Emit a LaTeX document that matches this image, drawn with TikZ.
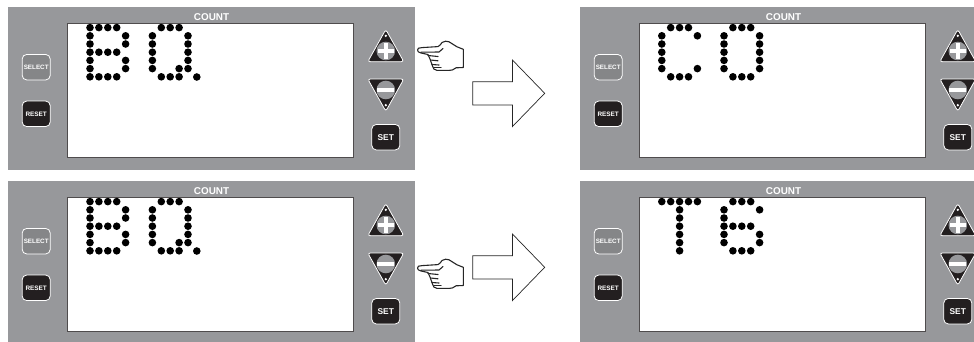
\documentclass[tikz,border=0pt]{standalone}
\usepackage{fontspec}
\setmainfont{Liberation Sans}
\definecolor{panelgray}{HTML}{97989B}
\definecolor{btndark}{HTML}{231F20}
\usetikzlibrary{calc}
\tikzset{
  x=1pt,y=-1pt,
  panel/.style={fill=panelgray,draw=none},
  screen/.style={fill=white,draw=btndark!80,line width=0.9pt},
  keybox/.style={draw=white,line width=0.8pt,rounded corners=4.5pt,minimum width=28pt,minimum height=25.5pt,inner sep=0pt,text=white,font=\bfseries},
  selectkey/.style={keybox,fill=panelgray!88!black},
  darkkey/.style={keybox,fill=btndark},
  tri/.style={fill=btndark,draw=white,line width=0.8pt,rounded corners=2.5pt},
  knob/.style={circle,fill=panelgray,draw=none,minimum size=18.6pt,inner sep=0pt},
  pin/.style={circle,fill=white,draw=none,minimum size=2.6pt,inner sep=0pt},
  sign/.style={fill=white,draw=none},
  dotmark/.style={fill=black},
  label/.style={text=white,font=\bfseries\fontsize{9.9}{10}\selectfont,inner sep=0pt},
  outlinearrow/.style={draw=black!85,fill=white,line width=0.7pt,line join=miter},
  handline/.style={draw=black!85,line width=1.1pt,line cap=round,line join=round},
}
% #1 prefix, #2 x offset, #3 y offset
\newcommand{\drawpanel}[3]{%
  \begin{scope}[shift={(#2,#3)}]
    \fill[panel] (8,7) rectangle (415,170);
    \draw[screen] (67.7,23) rectangle (353.5,157);
    \node[label] (#1count) at (211.5,17.2) {COUNT};
    \node[selectkey] (#1select) at (36.2,67.2) {\fontsize{6.3}{7}\selectfont SELECT};
    \node[darkkey] (#1reset) at (36.2,113.8) {\fontsize{6.4}{7}\selectfont RESET};
    \node[darkkey] (#1set) at (385.8,137.2) {\fontsize{8.4}{9}\selectfont SET};
    \draw[tri] (385.8,29.5) -- (403.8,61.7) -- (367.8,61.7) -- cycle;
    \draw[tri] (385.8,111.2) -- (403.8,79) -- (367.8,79) -- cycle;
    \node[knob] (#1plus) at (385.8,51) {};
    \node[knob] (#1minus) at (385.8,90) {};
    \node[pin] (#1pinup) at (385.8,35.8) {};
    \node[pin] (#1pindown) at (385.8,105.2) {};
    \fill[sign] (377.8,49.1) rectangle (393.8,52.9);
    \fill[sign] (383.9,43) rectangle (387.7,59);
    \fill[sign] (377.4,88.1) rectangle (394.2,91.9);
  \end{scope}}
% #1 x offset, #2 y offset, #3 first column x, #4 macro holding a list of col/row
\newcommand{\drawdots}[4]{%
  \foreach \cc/\rr in #4{
    \fill[dotmark] ({#1+#3+8.9*\cc},{#2+27.6+8.2*\rr}) circle (3.8);
  }}
\newcommand{\drawhand}[2]{%
  \begin{scope}[shift={(#1,#2)}]
    \draw[handline,fill=white] (417.5,50)
      .. controls (417,48.2) and (419,47.8) .. (422,47.6)
      -- (438,46.6) .. controls (440,46) and (441,43.5) .. (442,42.5)
      .. controls (444,40.8) and (447,41) .. (449,41.8)
      -- (457,46.8) -- (463.3,49.3) -- (463.3,67.5) -- (456,67.8)
      .. controls (454,70) and (451,70.4) .. (449,70.4)
      -- (437,70.4) .. controls (434,70.4) and (433,68) .. (432.5,66)
      -- (430,59) -- (428,54.5) -- (421,53)
      .. controls (418.5,52.5) and (417.7,51.5) .. (417.5,50);
    \draw[handline] (421,52.2) -- (439,52) -- (443,48.5);
    \draw[handline] (428,55.5) -- (438,56.5);
    \draw[handline] (430.5,60) -- (438,60.8);
    \draw[handline] (432,64.5) -- (439,65);
    \draw[handline] (434,67.5) -- (441,67.5);
  \end{scope}}
\newcommand{\drawbigarrow}[2]{%
  \begin{scope}[shift={(#1,#2)}]
    \draw[outlinearrow] (472.8,81.8) -- (512.4,81.8) -- (512.4,60) -- (544.7,93.3) -- (512.4,126.6) -- (512.4,105) -- (472.8,105) -- cycle;
  \end{scope}}
\def\letterB{0/0,1/0,2/0,3/0,0/1,4/1,0/2,4/2,0/3,1/3,2/3,3/3,0/4,4/4,0/5,4/5,0/6,1/6,2/6,3/6}
\def\letterQ{1/0,2/0,3/0,0/1,4/1,0/2,4/2,0/3,4/3,0/4,4/4,0/5,3/5,4/5,1/6,2/6,3/6}
\def\letterC{1/0,2/0,3/0,0/1,4/1,0/2,0/3,0/4,0/5,4/5,1/6,2/6,3/6}
\def\letterO{1/0,2/0,3/0,0/1,4/1,0/2,4/2,0/3,4/3,0/4,4/4,0/5,4/5,1/6,2/6,3/6}
\def\letterT{0/0,1/0,2/0,3/0,4/0,2/1,2/2,2/3,2/4,2/5,2/6}
\def\letterS{1/0,2/0,3/0,0/1,4/1,0/2,0/3,1/3,2/3,3/3,0/4,4/4,0/5,4/5,1/6,2/6,3/6}
\begin{document}
\begin{tikzpicture}
\useasboundingbox (0,0) rectangle (974,341);
\begin{scope}
\clip (0,0) rectangle (974,341);
\drawpanel{a}{0}{0}
\drawpanel{b}{0}{174}
\drawpanel{c}{572}{0}
\drawpanel{d}{572}{174}
\end{scope}
% top left: B Q.
\drawdots{0}{0}{90}{\letterB}
\drawdots{0}{0}{152.4}{\letterQ}
\fill[dotmark] (196.8,77) circle (3.8);
% bottom left: B Q.
\drawdots{0}{174}{90}{\letterB}
\drawdots{0}{174}{152.4}{\letterQ}
\fill[dotmark] (196.8,251) circle (3.8);
% top right: C O
\drawdots{0}{0}{661.8}{\letterC}
\drawdots{0}{0}{724}{\letterO}
% bottom right: T 6
\drawdots{0}{174}{661.8}{\letterT}
\drawdots{0}{174}{724}{\letterS}
\drawhand{0}{0}
\drawhand{0}{218}
\drawbigarrow{0}{0}
\drawbigarrow{0}{174}
\end{tikzpicture}
\end{document}
